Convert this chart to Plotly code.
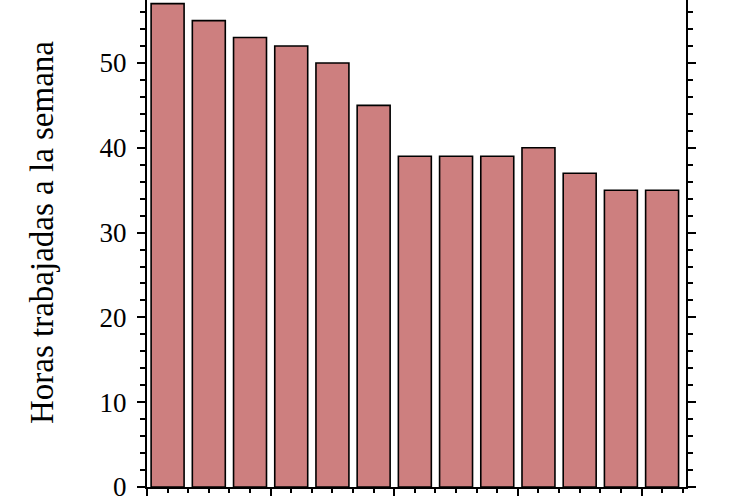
import plotly.graph_objects as go

positions = list(range(1, 14))
hours = [57, 55, 53, 52, 50, 45, 39, 39, 39, 40, 37, 35, 35]
y_title = "Horas trabajadas a la semana"

fig = go.Figure(go.Bar(
    x=positions, y=hours, width=0.8,
    marker=dict(color="#cd7f7f", line=dict(color="black", width=1.6)),
))

font = "Liberation Serif, Times New Roman, serif"
fig.update_layout(
    width=730, height=500,
    margin=dict(l=147, r=44, t=0, b=13, autoexpand=False),
    plot_bgcolor="white", paper_bgcolor="white",
    showlegend=False,
    font=dict(family=font, color="black", size=26),
)
fig.update_xaxes(
    range=[0.5, 13.58], showgrid=False, zeroline=False, automargin=False,
    showline=True, linecolor="black", linewidth=2,
    ticks="outside", tickcolor="black", ticklen=7, tickwidth=2,
    tick0=0.5, dtick=3, showticklabels=False,
    minor=dict(ticks="outside", tick0=0.5, dtick=0.5, ticklen=4, tickwidth=2, tickcolor="black"),
)
fig.update_yaxes(
    range=[0, 57.43], showgrid=False, zeroline=False, automargin=False,
    showline=True, linecolor="black", linewidth=2, mirror="ticks",
    ticks="outside", tickcolor="black", ticklen=8, tickwidth=2,
    tick0=0, dtick=10, tickfont=dict(size=27, family=font), ticklabeloverflow="allow",
    ticklabelstandoff=5,
    minor=dict(ticks="outside", tick0=0, dtick=2, ticklen=5, tickwidth=2, tickcolor="black"),
)
fig.add_annotation(
    text=y_title, textangle=-90, showarrow=False,
    xref="paper", yref="paper", x=(42 - 147) / 539, y=1 - 233 / 487,
    xanchor="center", yanchor="middle",
    font=dict(size=33, family=font, color="black"),
)
fig.write_html("out.html", post_script="document.body.style.margin='0';",
               config={"displayModeBar": False})
